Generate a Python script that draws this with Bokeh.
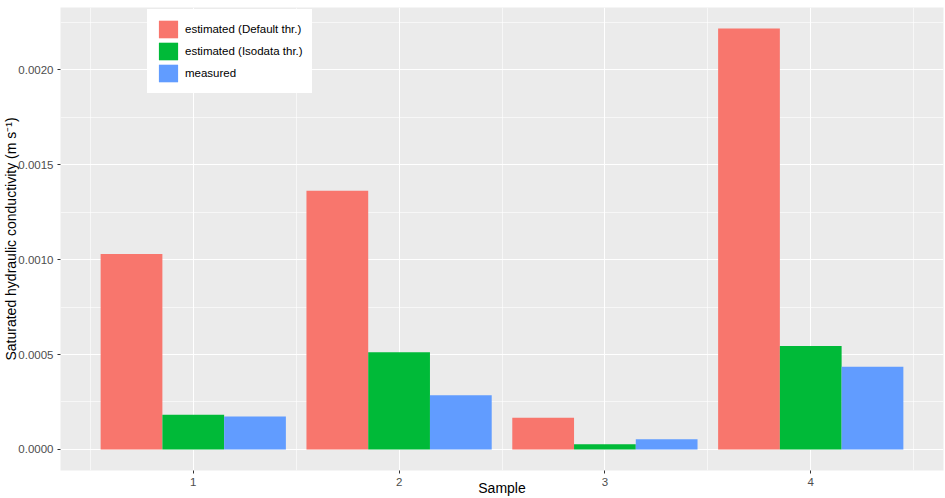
from bokeh.plotting import figure
from bokeh.models import (ColumnDataSource, Range1d, FixedTicker, Legend, LegendItem,
                          PrintfTickFormatter)
from bokeh.transform import dodge
from bokeh.embed import file_html
from bokeh.resources import INLINE

samples = [1, 2, 3, 4]
default_thr = [0.00103, 0.001362, 0.000167, 0.002217]
isodata_thr = [0.000183, 0.000512, 0.000028, 0.000545]
measured = [0.000174, 0.000285, 0.000054, 0.000435]
series_labels = ["estimated (Default thr.)", "estimated (Isodata thr.)", "measured"]
colors = ["#F8766D", "#00BA38", "#619CFF"]
y_ticks = [0.0, 0.0005, 0.0010, 0.0015, 0.0020]
y_minor = [0.00025, 0.00075, 0.00125, 0.00175, 0.00225]
x_minor = [0.5, 1.5, 2.5, 3.5, 4.5]
x_title = "Sample"
y_title = "Saturated hydraulic conductivity (m s\u207b\u00b9)"

src = ColumnDataSource(dict(sample=samples, d=default_thr, i=isodata_thr, m=measured))

ymax = max(default_thr + isodata_thr + measured)
ypad = 0.05 * ymax
xlo, xhi = min(samples) - 0.45, max(samples) + 0.45
xpad = 0.05 * (xhi - xlo)

FONT = "Liberation Sans"

p = figure(width=945, height=498, output_backend="svg", toolbar_location=None,
           x_range=Range1d(xlo - xpad, xhi + xpad), y_range=Range1d(-ypad, ymax + ypad),
           min_border_left=60, min_border_right=2, min_border_top=7, min_border_bottom=28)
p.background_fill_color = "#EBEBEB"
p.border_fill_color = "white"
p.outline_line_color = None

r1 = p.vbar(x=dodge("sample", -0.3, range=p.x_range), top="d", width=0.3, bottom=0,
            source=src, fill_color=colors[0], line_color=None)
r2 = p.vbar(x=dodge("sample", 0.0, range=p.x_range), top="i", width=0.3, bottom=0,
            source=src, fill_color=colors[1], line_color=None)
r3 = p.vbar(x=dodge("sample", 0.3, range=p.x_range), top="m", width=0.3, bottom=0,
            source=src, fill_color=colors[2], line_color=None)

p.xaxis.ticker = FixedTicker(ticks=samples, minor_ticks=x_minor)
p.yaxis.ticker = FixedTicker(ticks=y_ticks, minor_ticks=y_minor)
p.yaxis.formatter = PrintfTickFormatter(format="%.4f")

for g in (p.xgrid, p.ygrid):
    g.grid_line_color = "white"
    g.grid_line_width = 1.1
    g.minor_grid_line_color = "white"
    g.minor_grid_line_width = 0.6

for ax in (p.xaxis, p.yaxis):
    ax.axis_line_color = None
    ax.major_tick_line_color = "#333333"
    ax.major_tick_in = 0
    ax.major_tick_out = 3
    ax.minor_tick_line_color = None
    ax.major_label_text_color = "#4D4D4D"
    ax.major_label_text_font = FONT
    ax.major_label_text_font_size = "11.5px"
    ax.major_label_standoff = 3
    ax.axis_label_text_font = FONT
    ax.axis_label_text_font_size = "14px"
    ax.axis_label_text_font_style = "normal"
    ax.axis_label_text_color = "black"

p.yaxis.axis_label = y_title
p.yaxis.axis_label_standoff = -4
p.xaxis.axis_label = x_title
p.xaxis.axis_label_standoff = -9

legend = Legend(items=[LegendItem(label=series_labels[0], renderers=[r1]),
                       LegendItem(label=series_labels[1], renderers=[r2]),
                       LegendItem(label=series_labels[2], renderers=[r3])],
                location=(87, 377))
legend.padding = 8
legend.margin = 0
legend.spacing = 0
legend.glyph_width = 24
legend.glyph_height = 22
legend.label_standoff = 5
legend.label_width = 113
legend.label_text_font = FONT
legend.label_text_font_size = "11.5px"
legend.label_text_color = "black"
legend.label_height = 22
legend.border_line_color = "white"
legend.border_line_width = 1
legend.background_fill_color = "white"
legend.background_fill_alpha = 1.0
p.add_layout(legend)

open("out.html", "w").write(file_html(p, INLINE))
